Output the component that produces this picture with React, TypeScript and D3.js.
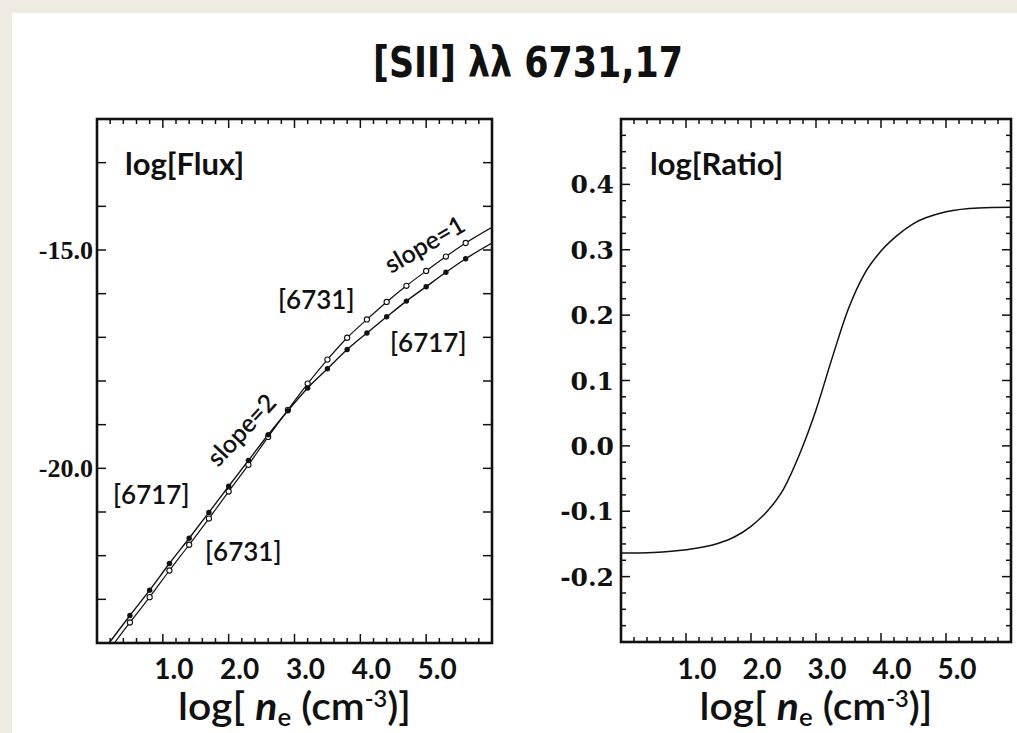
import React, { useEffect, useRef } from 'react'
import * as d3 from 'd3'

const fluxNe = [0.15, 0.5, 0.8, 1.1, 1.4, 1.7, 2.0, 2.3, 2.6, 2.9, 3.2, 3.5, 3.8, 4.1, 4.4, 4.7, 5.0, 5.3, 5.6, 6.0]
const flux6717 = [-24.07, -23.37, -22.79, -22.18, -21.60, -21.01, -20.41, -19.82, -19.23, -18.68, -18.16, -17.72, -17.28, -16.90, -16.53, -16.17, -15.84, -15.51, -15.20, -14.84]
const flux6731 = [-24.23, -23.53, -22.95, -22.34, -21.75, -21.15, -20.53, -19.92, -19.28, -18.66, -18.06, -17.51, -17.01, -16.59, -16.19, -15.82, -15.48, -15.15, -14.84, -14.48]

const ratioNe = [0, 0.5, 1.0, 1.5, 1.75, 2.0, 2.25, 2.5, 2.75, 3.0, 3.25, 3.5, 3.75, 4.0, 4.25, 4.5, 5.0, 5.5, 6.0]
const logRatio = [-0.164, -0.163, -0.159, -0.149, -0.139, -0.123, -0.100, -0.066, -0.012, 0.055, 0.135, 0.210, 0.264, 0.298, 0.322, 0.340, 0.358, 0.364, 0.365]

const xMajor = [1, 2, 3, 4, 5]
const xTickLabels = ['1.0', '2.0', '3.0', '4.0', '5.0']
const fluxTicks = [-15, -20]
const fluxTickLabels = ['-15.0', '-20.0']
const ratioTicks = [0.4, 0.3, 0.2, 0.1, 0.0, -0.1, -0.2]
const ratioTickLabels = ['0.4', '0.3', '0.2', '0.1', '0.0', '-0.1', '-0.2']

const W = 1017
const H = 733
const sans = 'Lato, "Open Sans", sans-serif'

// inward tick marks on all four sides of a frame
function ticks(g, box, x, y, xVals, yVals, len) {
    const t = g.append('g').attr('stroke', '#111').attr('stroke-width', 1.5)
    ;[box.y1, box.y0].forEach(base => {
        const dir = base === box.y1 ? -1 : 1
        t.append('g').selectAll('line')
            .data(xVals)
            .join('line')
            .attr('x1', d => x(d)).attr('x2', d => x(d))
            .attr('y1', base).attr('y2', base + dir * len)
    })
    ;[box.x0, box.x1].forEach(base => {
        const dir = base === box.x0 ? 1 : -1
        t.append('g').selectAll('line')
            .data(yVals)
            .join('line')
            .attr('y1', d => y(d)).attr('y2', d => y(d))
            .attr('x1', base).attr('x2', base + dir * len)
    })
}

function drawPanel(svg, box, x, y, yMinor, yMajor) {
    const g = svg.append('g')
    const xMinor = d3.range(0.2, 5.9, 0.2).filter(v => Math.abs(v - Math.round(v)) > 0.01)

    ticks(g, box, x, y, xMinor, yMinor, 5)
    ticks(g, box, x, y, xMajor, yMajor, 9)

    // x tick labels sit a little right of their ticks, as in the original
    g.append('g')
        .selectAll('text')
        .data(xMajor)
        .join('text')
        .attr('x', d => x(d) + 11)
        .attr('y', 679)
        .attr('text-anchor', 'middle')
        .attr('font-family', sans)
        .attr('font-weight', 'bold')
        .attr('font-size', 28)
        .attr('fill', '#111')
        .text((d, i) => xTickLabels[i])

    // axis title: log[ n_e (cm^-3)]
    const t = g.append('text')
        .attr('x', (box.x0 + box.x1) / 2)
        .attr('y', 720)
        .attr('text-anchor', 'middle')
        .attr('font-family', sans)
        .attr('font-weight', 600)
        .attr('font-size', 38)
        .attr('textLength', 233)
        .attr('lengthAdjust', 'spacingAndGlyphs')
        .attr('fill', '#111')
    t.append('tspan').text('log[ ')
    t.append('tspan').attr('font-style', 'italic').attr('font-weight', 'bold').text('n')
    t.append('tspan').attr('font-size', 24).attr('dy', 6).text('e')
    t.append('tspan').attr('dy', -6).text(' (cm')
    t.append('tspan').attr('font-size', 22).attr('dy', -13).text('-3')
    t.append('tspan').attr('dy', 13).text(')]')

    return g
}

function Chart() {
    const ref = useRef(null)

    useEffect(() => {
        const svg = d3.select(ref.current)
        svg.selectAll('*').remove()

        svg.append('rect').attr('width', W).attr('height', H).attr('fill', '#efebe3')
        svg.append('rect').attr('x', 12).attr('y', 13).attr('width', W - 12).attr('height', H - 13).attr('fill', '#fff')

        svg.append('text')
            .attr('x', 528)
            .attr('y', 77)
            .attr('text-anchor', 'middle')
            .attr('font-family', '"Liberation Sans Narrow", "DejaVu Sans Condensed", "Liberation Sans", sans-serif')
            .attr('font-weight', 'bold')
            .attr('font-size', 42)
            .attr('textLength', 310)
            .attr('lengthAdjust', 'spacingAndGlyphs')
            .attr('fill', '#111')
            .text('[SII] λλ 6731,17')

        const defs = svg.append('defs')

        // ---- left: log flux ----
        const L = { x0: 97, x1: 492, y0: 119, y1: 643 }
        const xL = d3.scaleLinear().domain([0, 6]).range([L.x0, L.x1])
        const yL = d3.scaleLinear().domain([-24, -12]).range([L.y1, L.y0])
        const gL = drawPanel(svg, L, xL, yL, [], d3.range(-23, -12, 1))

        defs.append('clipPath').attr('id', 'clipL')
            .append('rect').attr('x', L.x0).attr('y', L.y0).attr('width', L.x1 - L.x0).attr('height', L.y1 - L.y0)

        const fluxLine = d3.line()
            .x(d => xL(d[0]))
            .y(d => yL(d[1]))
            .curve(d3.curveMonotoneX)
        const s17 = fluxNe.map((v, i) => [v, flux6717[i]])
        const s31 = fluxNe.map((v, i) => [v, flux6731[i]])
        const cg = gL.append('g').attr('clip-path', 'url(#clipL)')
        cg.append('path').attr('d', fluxLine(s17)).attr('fill', 'none').attr('stroke', '#111').attr('stroke-width', 1.4)
        cg.append('path').attr('d', fluxLine(s31)).attr('fill', 'none').attr('stroke', '#111').attr('stroke-width', 1.2)
        cg.append('g').selectAll('circle')
            .data(s31.slice(1, -1))
            .join('circle')
            .attr('cx', d => xL(d[0]))
            .attr('cy', d => yL(d[1]))
            .attr('r', 2.6)
            .attr('fill', '#fff')
            .attr('stroke', '#111')
            .attr('stroke-width', 1.1)
        cg.append('g').selectAll('circle')
            .data(s17.slice(1, -1))
            .join('circle')
            .attr('cx', d => xL(d[0]))
            .attr('cy', d => yL(d[1]))
            .attr('r', 2.7)
            .attr('fill', '#111')

        gL.append('g').selectAll('text')
            .data(fluxTicks)
            .join('text')
            .attr('x', L.x0 - 4)
            .attr('y', d => yL(d) + 9)
            .attr('text-anchor', 'end')
            .attr('font-family', '"Liberation Serif", serif')
            .attr('font-weight', 'bold')
            .attr('font-size', 26)
            .attr('fill', '#111')
            .text((d, i) => fluxTickLabels[i])

        const lab = (g, txt, x, yy, size, weight, rot = 0) => {
            g.append('text')
                .attr('transform', `translate(${x},${yy}) rotate(${rot})`)
                .attr('text-anchor', rot ? 'middle' : 'start')
                .attr('font-family', sans)
                .attr('font-weight', weight)
                .attr('font-size', size)
                .attr('fill', '#111')
                .text(txt)
        }
        lab(gL, 'log[Flux]', 125, 175, 31, 'bold')
        lab(gL, '[6731]', 278, 309, 26, 600)
        lab(gL, '[6717]', 390, 352, 26, 600)
        lab(gL, '[6717]', 113, 504, 26, 600)
        lab(gL, '[6731]', 205, 561, 26, 600)
        lab(gL, 'slope=1', 429, 252, 25, 600, -30)
        lab(gL, 'slope=2', 248, 436, 25, 600, -47)

        // ---- right: log ratio ----
        const R = { x0: 621, x1: 1011, y0: 119, y1: 642 }
        const xR = d3.scaleLinear().domain([0, 6]).range([R.x0, R.x1])
        const yR = d3.scaleLinear().domain([-0.3, 0.5]).range([R.y1, R.y0])
        const rMinor = d3.range(-0.275, 0.5, 0.025).filter(v => Math.abs(v * 10 - Math.round(v * 10)) > 0.01)
        const gR = drawPanel(svg, R, xR, yR, rMinor, ratioTicks)

        const ratioLine = d3.line()
            .x(d => xR(d[0]))
            .y(d => yR(d[1]))
            .curve(d3.curveMonotoneX)
        gR.append('path')
            .attr('d', ratioLine(ratioNe.map((v, i) => [v, logRatio[i]])))
            .attr('fill', 'none')
            .attr('stroke', '#111')
            .attr('stroke-width', 1.5)

        gR.append('g').selectAll('text')
            .data(ratioTicks)
            .join('text')
            .attr('x', R.x0 - 7)
            .attr('y', d => yR(d) + 9)
            .attr('text-anchor', 'end')
            .attr('font-family', '"DejaVu Serif", serif')
            .attr('font-weight', 'bold')
            .attr('font-size', 25)
            .attr('fill', '#111')
            .text((d, i) => ratioTickLabels[i])

        lab(gR, 'log[Ratio]', 650, 175, 31, 'bold')

        // frames on top
        ;[L, R].forEach(b => {
            svg.append('rect')
                .attr('x', b.x0).attr('y', b.y0)
                .attr('width', b.x1 - b.x0).attr('height', b.y1 - b.y0)
                .attr('fill', 'none')
                .attr('stroke', '#111')
                .attr('stroke-width', 2.6)
        })
    }, [])

    return <svg ref={ref} width={W} height={H} style={{ position: 'absolute', left: 0, top: 0 }} />
}

export default function App() {
    return (
        <div>
            <Chart />
        </div>
    )
}
